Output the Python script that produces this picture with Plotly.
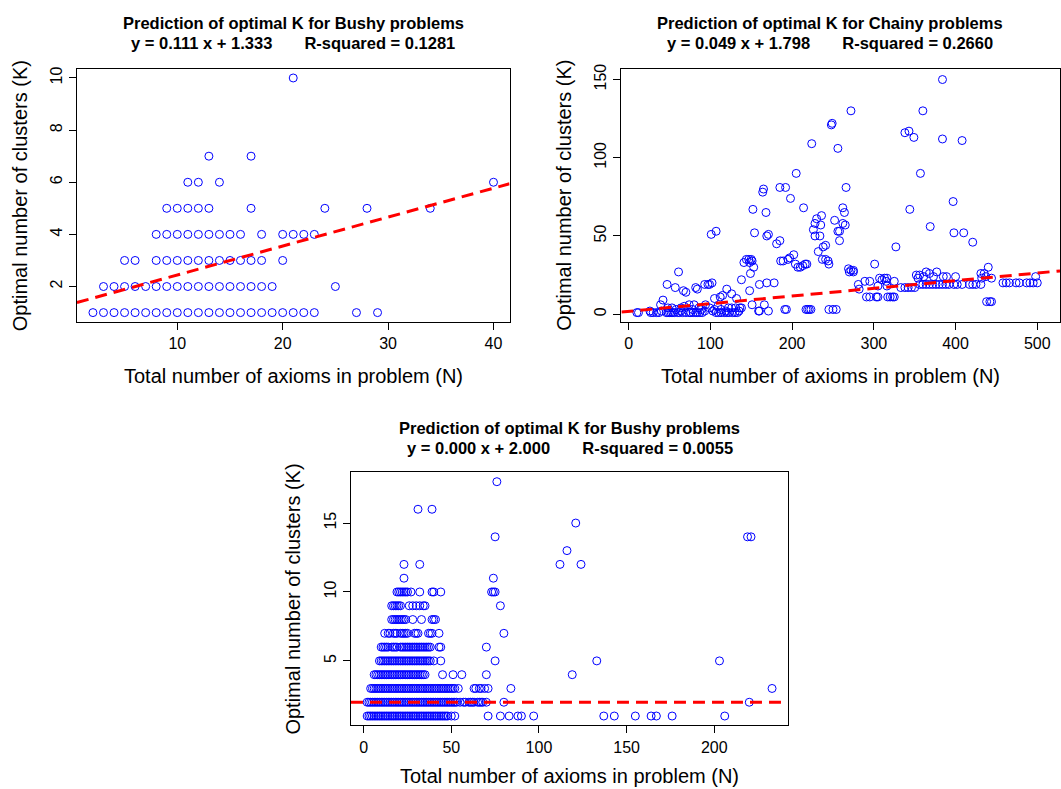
import plotly.graph_objects as go

# ---------------- Panel 1: Bushy problems (top-left) ----------------
p1_k_levels = [1, 2, 3, 4, 5, 6, 7, 10]
p1_n_by_k = [
    [2, 3, 4, 5, 6, 7, 8, 9, 10, 11, 12, 13, 14, 15, 16, 17, 18, 19, 20, 21, 22, 23, 27, 29],
    [3, 4, 5, 6, 7, 8, 9, 10, 11, 12, 13, 14, 15, 16, 17, 18, 19, 25],
    [5, 6, 8, 9, 10, 11, 12, 13, 14, 15, 16, 17, 18, 20],
    [8, 9, 10, 11, 12, 13, 14, 15, 16, 18, 20, 21, 22, 23],
    [9, 10, 11, 12, 13, 17, 24, 28, 34],
    [11, 12, 14, 40],
    [13, 17],
    [21],
]
p1_slope, p1_intercept = 0.111, 1.333
p1_title = "Prediction of optimal K for Bushy problems"
p1_sub = "y = 0.111 x + 1.333       R-squared = 0.1281"

# ---------------- Panel 2: Chainy problems (top-right) ----------------
p2_n = [
    10, 12, 27, 30, 34, 37, 46, 48, 50, 52, 54, 56, 60, 62, 64, 66, 70, 74, 76, 79, 82, 84, 87, 90, 93,
    103, 107, 110, 113, 117, 120, 123, 127, 130, 133, 135,
    26, 40, 48, 53, 58, 64, 68, 74, 78, 80, 86, 89, 94, 99, 105, 109, 113, 119, 122, 126, 131, 136, 138,
    39, 42, 61, 47, 57, 67, 70, 82, 84, 93, 97, 99, 102,
    101, 107, 105, 112, 115, 120, 126, 132, 138,
    141, 144, 147, 150, 151, 148, 153, 149, 148, 152, 154, 160, 169, 178, 151, 166, 159, 160, 171,
    164, 165, 168, 169, 171, 181, 185, 185, 192, 198, 186, 189, 195, 197, 202, 204, 207, 210, 213, 216, 218, 191, 193,
    205, 214, 224, 217, 219, 221, 223,
    226, 228, 230, 235, 236, 228, 234, 232, 238, 241, 237, 241, 244, 245,
    248, 249, 256, 252, 256, 258, 258, 262, 264, 262, 265, 266, 272, 269, 272, 275, 275, 270, 245, 250, 254,
    281, 282, 289, 295, 291, 295, 303, 305, 301, 305, 307, 310, 313, 316, 315, 316, 325, 317, 320, 323, 325, 327,
    333, 338, 342, 346, 350, 338, 343, 349, 344, 357, 360, 369, 384, 384, 397, 398, 410, 408, 421,
    352, 354, 356, 356, 360, 364, 364, 368, 368, 372, 373, 376, 377, 380, 384, 385, 388, 389, 392, 398, 400, 402, 408, 361,
    417, 421, 425, 431, 431, 432, 435, 437, 440, 444, 438, 442, 444,
    458, 462, 466, 474, 478, 487, 491, 495, 498, 500,
]
p2_k = [
    1, 1, 1, 1, 1, 1, 1, 1, 1, 1, 1, 1, 1, 1, 2, 1, 1, 1, 1, 1, 1, 1, 1, 1, 2,
    2, 1, 1, 1, 1, 1, 1, 1, 1, 1, 2,
    2, 2, 4, 4, 3, 4, 5, 6, 3, 6, 4, 3, 6, 4, 3, 5, 3, 2, 4, 4, 4, 4, 4,
    6, 9, 27, 19, 17, 15, 14, 17, 16, 19, 19, 19, 20,
    51, 53, 10, 11, 12, 16, 13, 10, 22,
    33, 35, 35, 35, 34, 33, 30, 26, 15, 67, 52, 19, 20, 20, 6, 6, 2, 2, 2,
    78, 80, 65, 50, 51, 45, 47, 81, 81, 74, 34, 34, 35, 36, 38, 32, 30, 30, 31, 32, 32, 3, 3,
    90, 68, 109, 3, 3, 3, 3,
    54, 58, 61, 57, 63, 50, 50, 40, 43, 44, 35, 35, 34, 32,
    121, 122, 106, 60, 53, 53, 47, 68, 65, 58, 57, 81, 130, 29, 28, 28, 27, 27, 3, 3, 3,
    19, 16, 21, 21, 11, 11, 11, 11, 32, 18, 23, 22, 23, 23, 21, 18, 21, 11, 11, 11, 11, 43,
    17, 17, 17, 17, 17, 116, 117, 113, 67, 90, 130, 56, 150, 112, 72, 52, 52, 111, 46,
    25, 23, 25, 19, 19, 19, 27, 26, 19, 19, 24, 19, 27, 19, 19, 24, 19, 24, 19, 19, 24, 19, 19, 24,
    19, 19, 19, 19, 26, 23, 26, 24, 30, 23, 8, 8, 8,
    20, 20, 20, 20, 20, 20, 20, 20, 24, 20,
]
p2_slope, p2_intercept = 0.049, 1.798
p2_title = "Prediction of optimal K for Chainy problems"
p2_sub = "y = 0.049 x + 1.798       R-squared = 0.2660"

# ---------------- Panel 3: Bushy problems (bottom) ----------------
p3_k_levels = [1, 2, 3, 4, 5, 6, 7, 8, 9, 10, 11, 12, 13, 14, 15, 16, 18]
p3_n_by_k = [
    [2, 3, 4, 5, 6, 7, 8, 9, 10, 11, 12, 13, 14, 15, 16, 17, 18, 19, 20, 21, 22, 23, 24, 25, 26, 27, 28,
     29, 30, 31, 32, 33, 34, 35, 36, 37, 38, 39, 40, 41, 42, 43, 44, 45, 46, 47, 48, 50, 52,
     71, 78, 83, 88, 90, 97, 137, 143, 155, 164, 167, 176, 206],
    [2, 3, 4, 5, 6, 7, 8, 9, 10, 11, 12, 13, 14, 15, 16, 17, 18, 19, 20, 21, 22, 23, 24, 25, 26, 27, 28,
     29, 30, 31, 32, 33, 34, 35, 36, 37, 38, 39, 40, 41, 42, 43, 44, 45, 46, 47, 48, 49, 50, 51, 52, 53, 55,
     57, 58, 60, 61, 62, 63, 65, 66, 67, 68, 70, 80, 220],
    [4, 5, 6, 7, 8, 9, 10, 11, 12, 13, 14, 15, 16, 17, 18, 19, 20, 21, 22, 23, 24, 25, 26, 27, 28, 29, 30,
     31, 32, 33, 34, 35, 36, 37, 38, 39, 40, 41, 42, 43, 44, 45, 46, 47, 48, 49, 50, 51, 52, 54,
     63, 64, 66, 67, 69, 71, 84, 233],
    [6, 7, 8, 9, 10, 11, 12, 13, 14, 15, 16, 17, 18, 19, 20, 21, 22, 23, 24, 25, 26, 27, 28, 29, 30, 31,
     32, 33, 34, 35, 45, 51, 56, 70, 119],
    [9, 10, 11, 12, 13, 14, 15, 16, 17, 18, 19, 20, 21, 22, 23, 24, 25, 26, 27, 28, 29, 30, 31, 32, 33,
     34, 35, 36, 37, 38, 40, 44, 75, 133, 203],
    [10, 11, 12, 13, 14, 16, 17, 18, 19, 21, 22, 23, 24, 25, 26, 27, 28, 29, 30, 31, 32, 33, 34, 35, 36,
     37, 38, 43, 44, 70],
    [12, 14, 15, 17, 18, 19, 21, 22, 23, 24, 25, 29, 30, 31, 37, 38, 39, 43, 80],
    [16, 17, 18, 19, 20, 21, 22, 23, 24, 28, 33, 39, 40, 41],
    [16, 17, 18, 19, 20, 21, 26, 28, 30, 32, 34, 35, 78],
    [19, 20, 21, 22, 23, 24, 25, 27, 32, 39, 40, 44, 73, 74, 75],
    [23, 74],
    [23, 32, 112, 124],
    [116],
    [75, 219, 221],
    [121],
    [31, 39],
    [76],
]
p3_slope, p3_intercept = 0.000, 2.000
p3_title = "Prediction of optimal K for Bushy problems"
p3_sub = "y = 0.000 x + 2.000       R-squared = 0.0055"

x_label = "Total number of axioms in problem (N)"
y_label = "Optimal number of clusters (K)"

# ---------------- layout helpers (pixel geometry) ----------------
W, H = 1061, 789
FONT = "Liberation Sans, Arial, Helvetica, sans-serif"


def flatten(levels, groups):
    xs, ys = [], []
    for k, ns in zip(levels, groups):
        for n in ns:
            xs.append(n)
            ys.append(k)
    return xs, ys


def px_x(p):
    return p / W


def px_y(p):
    return 1 - p / H


panels = [
    dict(xy=flatten(p1_k_levels, p1_n_by_k), slope=p1_slope, icpt=p1_intercept,
         title=p1_title, sub=p1_sub, box=(77, 510, 64, 319), xr=[0.48, 41.52], yr=[0.64, 10.36],
         xt=[10, 20, 30, 40], yt=[2, 4, 6, 8, 10], ytitle_x=20, xtitle_y=373, t1=18, t2=38),
    dict(xy=(p2_n, p2_k), slope=p2_slope, icpt=p2_intercept,
         title=p2_title, sub=p2_sub, box=(622, 1061, 64, 319), xr=[-8.9, 527.8], yr=[-5.0, 157.0],
         xt=[0, 100, 200, 300, 400, 500], yt=[0, 50, 100, 150], ytitle_x=565, xtitle_y=373, t1=18, t2=38),
    dict(xy=flatten(p3_k_levels, p3_n_by_k), slope=p3_slope, icpt=p3_intercept,
         title=p3_title, sub=p3_sub, box=(351.3, 789, 470.3, 725), xr=[-7.24, 242.24], yr=[0.32, 18.68],
         xt=[0, 50, 100, 150, 200], yt=[5, 10, 15], ytitle_x=293, xtitle_y=776, t1=426, t2=446),
]

fig = go.Figure()
annotations = []
layout_axes = {}

for i, p in enumerate(panels, start=1):
    xa = "x" if i == 1 else f"x{i}"
    ya = "y" if i == 1 else f"y{i}"
    xs, ys = p["xy"]
    fig.add_trace(go.Scatter(
        x=xs, y=ys, mode="markers", xaxis=xa, yaxis=ya, showlegend=False,
        marker=dict(symbol="circle-open", size=8, color="#0000FF", line=dict(width=1, color="#0000FF")),
        hoverinfo="x+y",
    ))
    x0, x1 = p["xr"]
    fig.add_trace(go.Scatter(
        x=[x0, x1], y=[p["slope"] * x0 + p["icpt"], p["slope"] * x1 + p["icpt"]],
        mode="lines", xaxis=xa, yaxis=ya, showlegend=False, hoverinfo="skip",
        line=dict(color="#FF0000", width=3, dash="12px,7px"),
    ))
    l, r, t, b = p["box"]
    common = dict(showgrid=False, zeroline=False, showline=True, mirror=True, linecolor="#000000",
                  linewidth=1, ticks="outside", ticklen=7, tickwidth=1, tickcolor="#000000",
                  tickfont=dict(family=FONT, size=16, color="#000000"))
    layout_axes["xaxis" if i == 1 else f"xaxis{i}"] = dict(
        common, domain=[px_x(l), min(px_x(r), 1.0)], range=p["xr"], anchor=ya,
        tickvals=p["xt"], ticklabelstandoff=0)
    layout_axes["yaxis" if i == 1 else f"yaxis{i}"] = dict(
        common, domain=[px_y(b), px_y(t)], range=p["yr"], anchor=xa,
        tickvals=p["yt"], tickangle=-90, ticklabelstandoff=1)
    cx = (l + min(r, 1061)) / 2 if i != 2 else (l + 1040) / 2
    annotations.append(dict(text="<b>" + p["title"] + "</b>", x=px_x(cx), y=px_y(p["t1"]),
                            xref="paper", yref="paper", showarrow=False, xanchor="center", yanchor="middle",
                            font=dict(family=FONT, size=16.5, color="#000000")))
    annotations.append(dict(text="<b>" + p["sub"].replace("  ", "\u00a0\u00a0") + "</b>", x=px_x(cx), y=px_y(p["t2"]),
                            xref="paper", yref="paper", showarrow=False, xanchor="center", yanchor="middle",
                            font=dict(family=FONT, size=16.5, color="#000000")))
    annotations.append(dict(text=x_label, x=px_x(cx), y=px_y(p["xtitle_y"]),
                            xref="paper", yref="paper", showarrow=False, xanchor="center", yanchor="middle",
                            font=dict(family=FONT, size=20, color="#000000")))
    annotations.append(dict(text=y_label, x=px_x(p["ytitle_x"]), y=px_y((t + b) / 2), textangle=-90,
                            xref="paper", yref="paper", showarrow=False, xanchor="center", yanchor="middle",
                            font=dict(family=FONT, size=20, color="#000000")))

fig.update_layout(
    width=W, height=H, margin=dict(l=0, r=0, t=0, b=0),
    paper_bgcolor="#FFFFFF", plot_bgcolor="#FFFFFF",
    annotations=annotations, showlegend=False,
    **layout_axes,
)

fig.write_html(
    "out.html",
    config={"displayModeBar": False},
    post_script="document.body.style.margin='0';document.body.style.padding='0';document.body.style.overflow='hidden';",
)
